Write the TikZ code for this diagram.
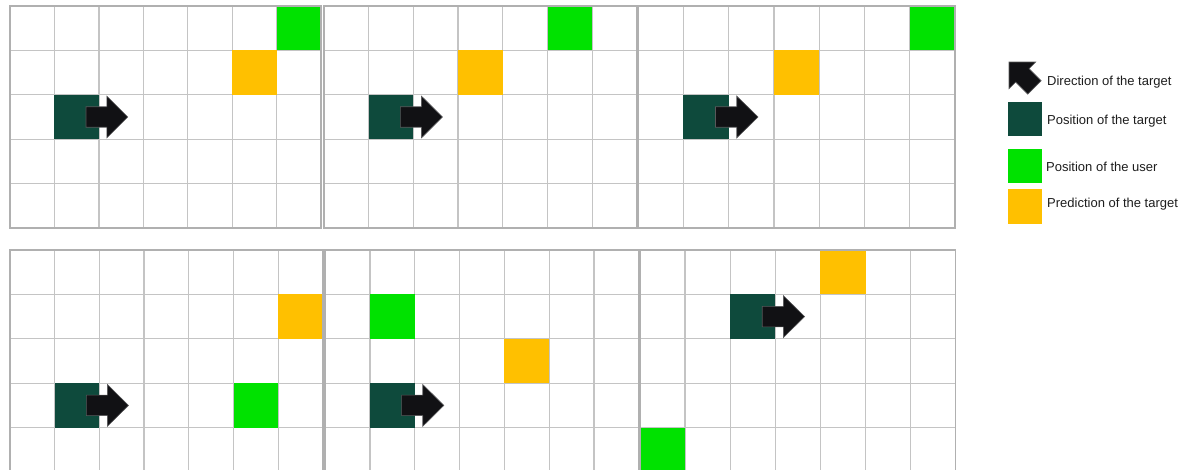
\documentclass[tikz,border=0pt]{standalone}
\usepackage{fontspec}
\setmainfont{Liberation Sans}
\definecolor{tgtc}{RGB}{14,74,60}
\definecolor{userc}{RGB}{0,226,0}
\definecolor{predc}{RGB}{255,192,0}
\definecolor{arrc}{RGB}{17,17,20}
\definecolor{gridc}{RGB}{196,196,196}
\definecolor{txtc}{RGB}{30,30,30}
\tikzset{
  gridline/.style={draw=gridc, line width=1.3pt},
  border/.style={draw=gridc!90!black, line width=1.4pt},
  tgtfill/.style={fill=tgtc},
  userfill/.style={fill=userc},
  predfill/.style={fill=predc},
  arrowst/.style={fill=arrc, draw=arrc!70!white, line width=0.6pt, line join=miter},
  legtext/.style={anchor=west, text=txtc, font=\fontsize{13}{15}\selectfont, inner sep=0pt},
  tarrow/.pic={\path[arrowst] (0.71,0.27) -- (1.18,0.27) -- (1.18,0.03) -- (1.65,0.5) -- (1.18,0.97) -- (1.18,0.73) -- (0.71,0.73) -- cycle;},
  board/.style={x=44.6pt, y=-44.4pt}
}
\newcommand\boardgrid{%
  \foreach \i in {1,...,6} {\draw[gridline] (\i,0) -- (\i,5);}
  \foreach \j in {1,...,4} {\draw[gridline] (0,\j) -- (7,\j);}
}
\begin{document}
\begin{tikzpicture}[x=1pt, y=-1pt]
\fill[white] (0,0) rectangle (1187,469);
\clip (0,0) rectangle (1187,469);
% ---------- top row ----------
\begin{scope}[shift={(10,6)}, board, x=44.43pt]
  \boardgrid
  \fill[userfill] (6,0) rectangle (7,1);
  \fill[predfill] (5,1) rectangle (6,2);
  \fill[tgtfill] (1,2) rectangle (2,3);
  \pic at (1,2) {tarrow};
  \draw[border] (0,0) rectangle (7,5);
\end{scope}
\begin{scope}[shift={(324,6)}, board, x=44.7pt]
  \boardgrid
  \fill[userfill] (5,0) rectangle (6,1);
  \fill[predfill] (3,1) rectangle (4,2);
  \fill[tgtfill] (1,2) rectangle (2,3);
  \pic at (1,2) {tarrow};
  \draw[border] (0,0) rectangle (7,5);
\end{scope}
\begin{scope}[shift={(638,6)}, board, x=45.3pt]
  \boardgrid
  \fill[userfill] (6,0) rectangle (7,1);
  \fill[predfill] (3,1) rectangle (4,2);
  \fill[tgtfill] (1,2) rectangle (2,3);
  \pic at (1,2) {tarrow};
  \draw[border] (0,0) rectangle (7,5);
\end{scope}
% ---------- bottom row ----------
\begin{scope}[shift={(10,250)}, board, x=44.7pt]
  \boardgrid
  \fill[predfill] (6,1) rectangle (7,2);
  \fill[userfill] (5,3) rectangle (6,4);
  \fill[tgtfill] (1,3) rectangle (2,4);
  \pic at (1,3) {tarrow};
  \draw[border] (0,0) rectangle (7,5);
\end{scope}
\begin{scope}[shift={(325,250)}, board, x=44.85pt]
  \boardgrid
  \fill[userfill] (1,1) rectangle (2,2);
  \fill[predfill] (4,2) rectangle (5,3);
  \fill[tgtfill] (1,3) rectangle (2,4);
  \pic at (1,3) {tarrow};
  \draw[border] (0,0) rectangle (7,5);
\end{scope}
\begin{scope}[shift={(640,250)}, board, x=45.1pt]
  \boardgrid
  \fill[predfill] (4,0) rectangle (5,1);
  \fill[userfill] (0,4) rectangle (1,5);
  \fill[tgtfill] (2,1) rectangle (3,2);
  \pic at (2,1) {tarrow};
  \draw[border] (0,0) rectangle (7,5);
\end{scope}
% ---------- legend ----------
\begin{scope}[shift={(1009,62)}, rotate=135, scale=0.9]
  \path[arrowst] (0,0) -- (-21,-21) -- (-21,-10.5) -- (-40,-10.5) -- (-40,10.5) -- (-21,10.5) -- (-21,21) -- cycle;
\end{scope}
\node[legtext] (ldir) at (1047,82) {Direction of the target};
\fill[tgtfill] (1008,102) rectangle (1042,136);
\node[legtext] (ltgt) at (1047,121) {Position of the target};
\fill[userfill] (1008,149) rectangle (1042,183);
\node[legtext] (luser) at (1046,167) {Position of the user};
\fill[predfill] (1008,189) rectangle (1042,224);
\node[legtext] (lpred) at (1047,204) {Prediction of the target};
\end{tikzpicture}
\end{document}
